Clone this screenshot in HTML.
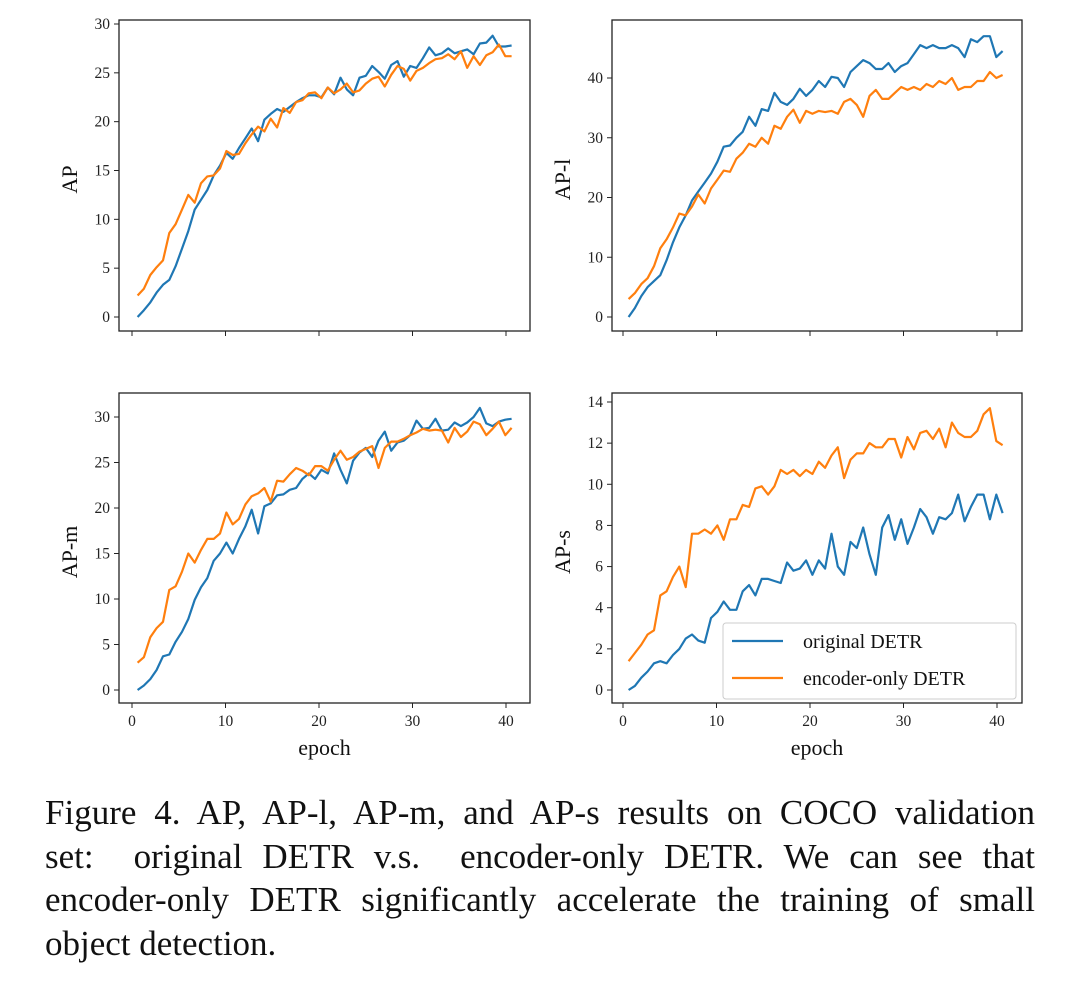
<!DOCTYPE html>
<html><head><meta charset="utf-8"><style>
body{margin:0;background:#fff;width:1080px;height:981px;overflow:hidden;font-family:"Liberation Serif",serif}
#cap{position:absolute;left:45px;top:791px;width:990px;font-size:35px;line-height:43.5px;color:#111}
#cap div{text-align:justify;text-align-last:justify;white-space:nowrap}
#cap div.last{text-align-last:left}
</style></head><body>
<svg id="fig" width="1080" height="790" style="position:absolute;left:0;top:0" font-family="Liberation Serif, serif"></svg>
<div id="cap"><div>Figure 4. AP, AP-l, AP-m, and AP-s results on COCO validation</div><div>set:&nbsp; original DETR v.s.&nbsp; encoder-only DETR. We can see that</div><div>encoder-only DETR significantly accelerate the training of small</div><div class="last">object detection.</div></div>
<script>
const xTicks=[0,10,20,30,40];
const apBlue=[0,0.7,1.5,2.5,3.3,3.8,5.2,7,8.8,11,12,13,14.5,15.5,16.8,16.2,17.3,18.3,19.3,18,20.2,20.8,21.3,21,21.5,22,22.4,22.7,22.7,22.5,23.5,22.8,24.5,23.3,22.7,24.5,24.7,25.7,25.1,24.4,25.8,26.2,24.6,25.7,25.5,26.5,27.6,26.8,27,27.5,27,27.2,27.4,26.9,28,28.1,28.8,27.7,27.7,27.8];
const apOrange=[2.2,2.9,4.3,5.1,5.8,8.6,9.5,11,12.5,11.7,13.7,14.4,14.5,15.2,17,16.6,16.7,17.8,18.7,19.5,19,20.3,19.4,21.4,20.9,22,22.2,22.9,23,22.4,23.5,22.9,23.3,23.9,23,23.2,23.9,24.4,24.6,23.6,24.8,25.7,25.4,24.2,25.2,25.5,26,26.4,26.5,26.9,26.4,27.2,25.5,26.7,25.8,26.8,27.1,27.9,26.7,26.7];
const aplBlue=[0,1.5,3.5,5,6,7,9.5,12.5,15,17,19.5,21,22.5,24,26,28.5,28.7,30,31,33.5,32,34.8,34.5,37.5,36,35.5,36.5,38.2,37,38,39.5,38.5,40.2,40,38.5,41,42,43,42.5,41.5,41.5,42.5,41,42,42.5,44,45.5,45,45.5,45,45,45.5,45,43.5,46.5,46,47,47,43.5,44.5];
const aplOrange=[3,4,5.5,6.5,8.5,11.5,13,15,17.3,17,18.5,20.5,19,21.5,23,24.5,24.3,26.5,27.5,29,28.5,30,29,32,31.5,33.5,34.7,32.5,34.5,34,34.5,34.3,34.5,34,36,36.5,35.5,33.5,37,38,36.5,36.5,37.5,38.5,38,38.5,38,39,38.5,39.5,39,40,38,38.5,38.5,39.5,39.5,41,40,40.5];
const apmBlue=[0,0.5,1.2,2.2,3.7,3.9,5.3,6.4,7.8,9.9,11.3,12.3,14.2,15,16.2,15,16.6,18,19.8,17.2,20.2,20.5,21.4,21.5,22,22.2,23.2,23.8,23.2,24.2,23.8,26,24.2,22.7,25.2,26.1,26.6,25.6,27.4,28.4,26.3,27.2,27.4,28,29.6,28.7,28.8,29.8,28.5,28.6,29.4,29,29.4,30,31,29.3,29,29.5,29.7,29.8];
const apmOrange=[3,3.6,5.8,6.8,7.5,11,11.4,13,15,14,15.4,16.6,16.6,17.2,19.5,18.2,18.8,20.4,21.3,21.6,22.2,20.7,23,22.9,23.7,24.4,24.1,23.6,24.6,24.6,24.1,25.3,26.3,25.3,25.6,26.2,26.5,26.8,24.4,26.6,27.3,27.3,27.6,28,28.3,28.7,28.5,28.6,28.5,27.2,28.8,27.8,28.4,29.5,29.2,28,28.7,29.5,28,28.8];
const apsBlue=[0,0.2,0.6,0.9,1.3,1.4,1.3,1.7,2,2.5,2.7,2.4,2.3,3.5,3.8,4.3,3.9,3.9,4.8,5.1,4.6,5.4,5.4,5.3,5.2,6.2,5.8,5.9,6.3,5.6,6.3,5.9,7.6,6,5.6,7.2,6.9,7.9,6.6,5.6,7.9,8.5,7.3,8.3,7.1,7.9,8.8,8.4,7.6,8.4,8.3,8.6,9.5,8.2,8.9,9.5,9.5,8.3,9.5,8.6];
const apsOrange=[1.4,1.8,2.2,2.7,2.9,4.6,4.8,5.5,6,5,7.6,7.6,7.8,7.6,8,7.3,8.3,8.3,9,8.9,9.8,9.9,9.5,9.9,10.7,10.5,10.7,10.4,10.7,10.5,11.1,10.8,11.4,11.8,10.3,11.2,11.5,11.5,12,11.8,11.8,12.2,12.2,11.3,12.3,11.7,12.5,12.6,12.2,12.7,11.8,13,12.5,12.3,12.3,12.6,13.4,13.7,12.1,11.9];
const panels=[
 {name:'ap',label:'AP',L:119,R:530,T:20,B:331,x0:132,x40:506,y0:317,ymax:30,yTop:24,yt:[0,5,10,15,20,25,30],b:apBlue,o:apOrange,xl:false,lx:77},
 {name:'ap-l',label:'AP-l',L:612,R:1022,T:20,B:331,x0:623,x40:997,y0:317,ymax:40,yTop:78,yt:[0,10,20,30,40],b:aplBlue,o:aplOrange,xl:false,lx:570},
 {name:'ap-m',label:'AP-m',L:119,R:530,T:393,B:703,x0:132,x40:506,y0:690,ymax:30,yTop:417,yt:[0,5,10,15,20,25,30],b:apmBlue,o:apmOrange,xl:true,lx:77},
 {name:'ap-s',label:'AP-s',L:612,R:1022,T:393,B:703,x0:623,x40:997,y0:690,ymax:14,yTop:402,yt:[0,2,4,6,8,10,12,14],b:apsBlue,o:apsOrange,xl:true,lx:570}];
const svg=document.getElementById('fig');const NS='http://www.w3.org/2000/svg';
function mk(t,a,p){const e=document.createElementNS(NS,t);for(const k in a)e.setAttribute(k,a[k]);(p||svg).appendChild(e);return e;}
panels.forEach(p=>{
 const g=mk('g',{});
 
 
 const sx=v=>p.x0+(v)*(p.x40-p.x0)/40, sy=v=>p.y0-v*(p.y0-p.yTop)/p.ymax;
 [[p.b,'#1f77b4','original'],[p.o,'#ff7f0e','encoder-only']].forEach(([d,c,n])=>{
  const pts=d.map((v,i)=>sx(0.6+i*40/(d.length-1)).toFixed(1)+','+sy(v).toFixed(1)).join(' ');
  const l=mk('polyline',{points:pts,fill:'none',stroke:c,'stroke-width':2.2,'stroke-linejoin':'round'},g);
  
  
 });
 const fr=mk('rect',{x:p.L,y:p.T,width:p.R-p.L,height:p.B-p.T,fill:'none',stroke:'#222','stroke-width':1.3},g);
 
 
 p.yt.forEach(v=>{const y=sy(v);mk('line',{x1:p.L-5,x2:p.L,y1:y,y2:y,stroke:'#222'},g);
  const t=mk('text',{x:p.L-9,y:y+5,'text-anchor':'end','font-size':15.5,fill:'#222'},g);t.textContent=v;
  
  });
 xTicks.forEach(v=>{const x=sx(v);mk('line',{x1:x,x2:x,y1:p.B,y2:p.B+5,stroke:'#222'},g);
  if(p.xl){const t=mk('text',{x:x,y:p.B+23,'text-anchor':'middle','font-size':15.5,fill:'#222'},g);t.textContent=v;
  
  }});
 const yl=mk('text',{x:p.lx,y:(p.T+p.B)/2+4,'text-anchor':'middle','font-size':22,fill:'#111',transform:`rotate(-90 ${p.lx} ${(p.T+p.B)/2+4})`},g);yl.textContent=p.label;
 
 
 if(p.xl){const xt=mk('text',{x:(p.L+p.R)/2,y:p.B+52,'text-anchor':'middle','font-size':22,fill:'#111'},g);xt.textContent='epoch';
  
  }
});
const lg=mk('g',{});


mk('rect',{x:723,y:623,width:293,height:76,rx:3,fill:'#fff',stroke:'#ccc'},lg);
[['original DETR','#1f77b4',641],['encoder-only DETR','#ff7f0e',678]].forEach(([n,c,y])=>{
 mk('line',{x1:732,x2:783,y1:y,y2:y,stroke:c,'stroke-width':2.2},lg);
 const t=mk('text',{x:803,y:y+7,'font-size':20,fill:'#111'},lg);t.textContent=n;
 
 
});
</script>
</body></html>
